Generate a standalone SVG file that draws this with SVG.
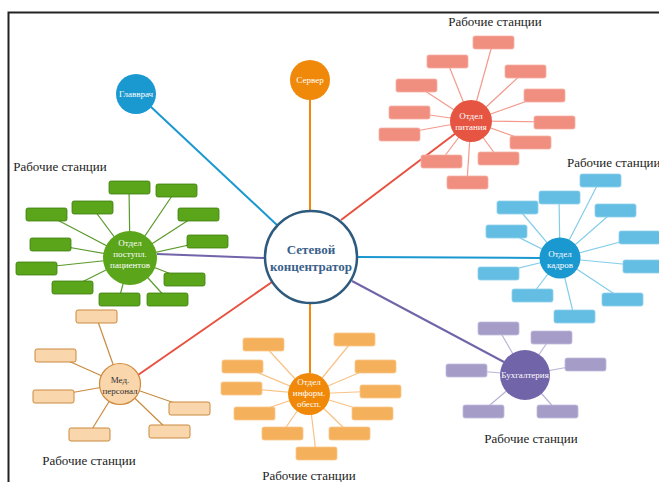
<svg xmlns="http://www.w3.org/2000/svg" width="659" height="482" viewBox="0 0 659 482">
<style>
text{font-family:"Liberation Serif","DejaVu Serif",serif;text-anchor:middle}
.lbl{font-size:13px;fill:#222}
.nt{font-size:9px;fill:#fff}
.hub{stroke-width:2;fill:none}
.sp{stroke-width:1.2;fill:none}
.r rect{width:41px;height:13px;rx:2px}
.red rect{fill:#f08e80;stroke:#f6b0a6;stroke-width:0.8}
.blue rect{fill:#64bde3;stroke:#8fd0ec;stroke-width:0.8}
.pur rect{fill:#a59cc8;stroke:#c2bcdc;stroke-width:0.8}
.grn rect{fill:#5aa51a;stroke:#3f7f10;stroke-width:0.8}
.org rect{fill:#f5b05c;stroke:#f8c88c;stroke-width:0.8}
.med rect{fill:#fad6ad;stroke:#c98a3e;stroke-width:1}
</style>
<rect x="0" y="0" width="659" height="482" fill="#fff"/>
<rect x="8.5" y="12.5" width="700" height="520" fill="none" stroke="#222" stroke-width="2"/>

<g id="connectors">
  <line class="hub" x1="150" y1="106" x2="277" y2="225" stroke="#1a98d0"/>
  <line class="hub" x1="310" y1="100" x2="310" y2="210" stroke="#f0890a"/>
  <line class="hub" x1="341" y1="220" x2="456" y2="133" stroke="#e8513f"/>
  <line class="hub" x1="358" y1="257" x2="540" y2="258" stroke="#1a98d0"/>
  <line class="hub" x1="352" y1="281" x2="504" y2="362" stroke="#7264a8"/>
  <line class="hub" x1="157" y1="254" x2="264" y2="258" stroke="#7264a8"/>
  <line class="hub" x1="272" y1="282" x2="138" y2="375" stroke="#e8513f"/>
  <line class="hub" x1="310" y1="304" x2="310" y2="373" stroke="#f0890a"/>

  <g stroke="#f29a8c" class="sp">
    <line x1="471" y1="121" x2="493" y2="42"/>
    <line x1="471" y1="121" x2="447" y2="61"/>
    <line x1="471" y1="121" x2="525" y2="71"/>
    <line x1="471" y1="121" x2="416" y2="85"/>
    <line x1="471" y1="121" x2="544" y2="95"/>
    <line x1="471" y1="121" x2="409" y2="112"/>
    <line x1="471" y1="121" x2="554" y2="122"/>
    <line x1="471" y1="121" x2="399" y2="134"/>
    <line x1="471" y1="121" x2="530" y2="142"/>
    <line x1="471" y1="121" x2="441" y2="161"/>
    <line x1="471" y1="121" x2="498" y2="158"/>
    <line x1="471" y1="121" x2="467" y2="182"/>
  </g>
  <g stroke="#84cdea" class="sp">
    <line x1="560" y1="258" x2="600" y2="180"/>
    <line x1="560" y1="258" x2="559" y2="197"/>
    <line x1="560" y1="258" x2="517" y2="207"/>
    <line x1="560" y1="258" x2="615" y2="210"/>
    <line x1="560" y1="258" x2="506" y2="231"/>
    <line x1="560" y1="258" x2="639" y2="237"/>
    <line x1="560" y1="258" x2="643" y2="266"/>
    <line x1="560" y1="258" x2="498" y2="273"/>
    <line x1="560" y1="258" x2="532" y2="295"/>
    <line x1="560" y1="258" x2="622" y2="299"/>
    <line x1="560" y1="258" x2="574" y2="316"/>
  </g>
  <g stroke="#b9b2d6" class="sp">
    <line x1="525" y1="375" x2="498" y2="328"/>
    <line x1="525" y1="375" x2="551" y2="337"/>
    <line x1="525" y1="375" x2="585" y2="364"/>
    <line x1="525" y1="375" x2="466" y2="370"/>
    <line x1="525" y1="375" x2="483" y2="411"/>
    <line x1="525" y1="375" x2="557" y2="411"/>
  </g>
  <g stroke="#5a9a2a" class="sp">
    <line x1="130" y1="258" x2="129" y2="187"/>
    <line x1="130" y1="258" x2="176" y2="190"/>
    <line x1="130" y1="258" x2="92" y2="207"/>
    <line x1="130" y1="258" x2="46" y2="214"/>
    <line x1="130" y1="258" x2="198" y2="214"/>
    <line x1="130" y1="258" x2="207" y2="241"/>
    <line x1="130" y1="258" x2="50" y2="244"/>
    <line x1="130" y1="258" x2="36" y2="268"/>
    <line x1="130" y1="258" x2="72" y2="287"/>
    <line x1="130" y1="258" x2="184" y2="279"/>
    <line x1="130" y1="258" x2="119" y2="299"/>
    <line x1="130" y1="258" x2="167" y2="299"/>
  </g>
  <g stroke="#c98a3e" class="sp">
    <line x1="120" y1="384" x2="96" y2="316"/>
    <line x1="120" y1="384" x2="55" y2="355"/>
    <line x1="120" y1="384" x2="53" y2="396"/>
    <line x1="120" y1="384" x2="189" y2="408"/>
    <line x1="120" y1="384" x2="169" y2="431"/>
    <line x1="120" y1="384" x2="89" y2="434"/>
  </g>
  <g stroke="#f8c285" class="sp">
    <line x1="309" y1="394" x2="263" y2="344"/>
    <line x1="309" y1="394" x2="354" y2="339"/>
    <line x1="309" y1="394" x2="242" y2="366"/>
    <line x1="309" y1="394" x2="375" y2="366"/>
    <line x1="309" y1="394" x2="241" y2="388"/>
    <line x1="309" y1="394" x2="380" y2="391"/>
    <line x1="309" y1="394" x2="254" y2="413"/>
    <line x1="309" y1="394" x2="372" y2="413"/>
    <line x1="309" y1="394" x2="282" y2="433"/>
    <line x1="309" y1="394" x2="349" y2="433"/>
    <line x1="309" y1="394" x2="316" y2="453"/>
  </g>
</g>

<g id="hub">
  <circle cx="311" cy="257" r="46" fill="#fff" stroke="#2e5a7e" stroke-width="2.5"/>
  <text x="311" y="254" font-size="13" font-weight="bold" fill="#3a5f8a">Сетевой</text>
  <text x="311" y="271" font-size="13" font-weight="bold" fill="#3a5f8a">концентратор</text>
</g>

<g id="glavvrach">
  <circle cx="136" cy="94" r="20" fill="#1a98d0"/>
  <text class="nt" x="136" y="97">Главврач</text>
</g>

<g id="server">
  <circle cx="310" cy="80" r="20" fill="#f0890a"/>
  <text class="nt" x="310" y="83">Сервер</text>
</g>

<g id="pitanie">
  <g class="r red">
    <rect x="473" y="36"/><rect x="427" y="55"/><rect x="505" y="65"/><rect x="396" y="79"/>
    <rect x="524" y="89"/><rect x="389" y="106"/><rect x="534" y="116"/><rect x="379" y="128"/>
    <rect x="510" y="136"/><rect x="421" y="155"/><rect x="478" y="152"/><rect x="447" y="176"/>
  </g>
  <circle cx="471" cy="121" r="21" fill="#e55541"/>
  <text class="nt" x="471" y="119">Отдел</text>
  <text class="nt" x="471" y="130">питания</text>
  <text class="lbl" x="495" y="26">Рабочие станции</text>
</g>

<g id="kadry">
  <g class="r blue">
    <rect x="580" y="174"/><rect x="539" y="191"/><rect x="497" y="201"/><rect x="595" y="204"/>
    <rect x="486" y="225"/><rect x="619" y="231"/><rect x="623" y="260"/><rect x="478" y="267"/>
    <rect x="512" y="289"/><rect x="602" y="293"/><rect x="554" y="310"/>
  </g>
  <circle cx="560" cy="258" r="20.5" fill="#1a98d0"/>
  <text class="nt" x="560" y="257">Отдел</text>
  <text class="nt" x="560" y="268">кадров</text>
  <text class="lbl" x="567" y="167" style="text-anchor:start">Рабочие станции</text>
</g>

<g id="buh">
  <g class="r pur">
    <rect x="478" y="322"/><rect x="531" y="331"/><rect x="565" y="358"/>
    <rect x="446" y="364"/><rect x="463" y="405"/><rect x="537" y="405"/>
  </g>
  <circle cx="525" cy="375" r="25" fill="#7264a8"/>
  <text class="nt" x="525" y="378">Бухгалтерия</text>
  <text class="lbl" x="531" y="443">Рабочие станции</text>
</g>

<g id="postupl">
  <g class="r grn">
    <rect x="109" y="181"/><rect x="156" y="184"/><rect x="72" y="201"/><rect x="26" y="208"/>
    <rect x="178" y="208"/><rect x="187" y="235"/><rect x="30" y="238"/><rect x="16" y="262"/>
    <rect x="52" y="281"/><rect x="164" y="273"/><rect x="99" y="293"/><rect x="147" y="293"/>
  </g>
  <circle cx="130" cy="258" r="27" fill="#5aa51a"/>
  <text class="nt" x="130" y="246">Отдел</text>
  <text class="nt" x="130" y="257">поступл.</text>
  <text class="nt" x="130" y="268">пациентов</text>
  <text class="lbl" x="60" y="171">Рабочие станции</text>
</g>

<g id="medpersonal">
  <g class="r med">
    <rect x="76" y="310"/><rect x="35" y="349"/><rect x="33" y="390"/>
    <rect x="169" y="402"/><rect x="149" y="425"/><rect x="69" y="428"/>
  </g>
  <circle cx="120" cy="384" r="20.5" fill="#fad6ad" stroke="#cf8a3c" stroke-width="1.2"/>
  <text x="120" y="383" font-size="9" fill="#333">Мед.</text>
  <text x="120" y="394" font-size="9" fill="#333">персонал</text>
  <text class="lbl" x="89" y="465">Рабочие станции</text>
</g>

<g id="inform">
  <g class="r org">
    <rect x="243" y="338"/><rect x="334" y="333"/><rect x="222" y="360"/><rect x="355" y="360"/>
    <rect x="221" y="382"/><rect x="360" y="385"/><rect x="234" y="407"/><rect x="352" y="407"/>
    <rect x="262" y="427"/><rect x="329" y="427"/><rect x="296" y="447"/>
  </g>
  <circle cx="309" cy="394" r="21" fill="#f0890a"/>
  <text class="nt" x="309" y="385">Отдел</text>
  <text class="nt" x="309" y="396">информ.</text>
  <text class="nt" x="309" y="407">обесп.</text>
  <text class="lbl" x="309" y="480">Рабочие станции</text>
</g>
</svg>
